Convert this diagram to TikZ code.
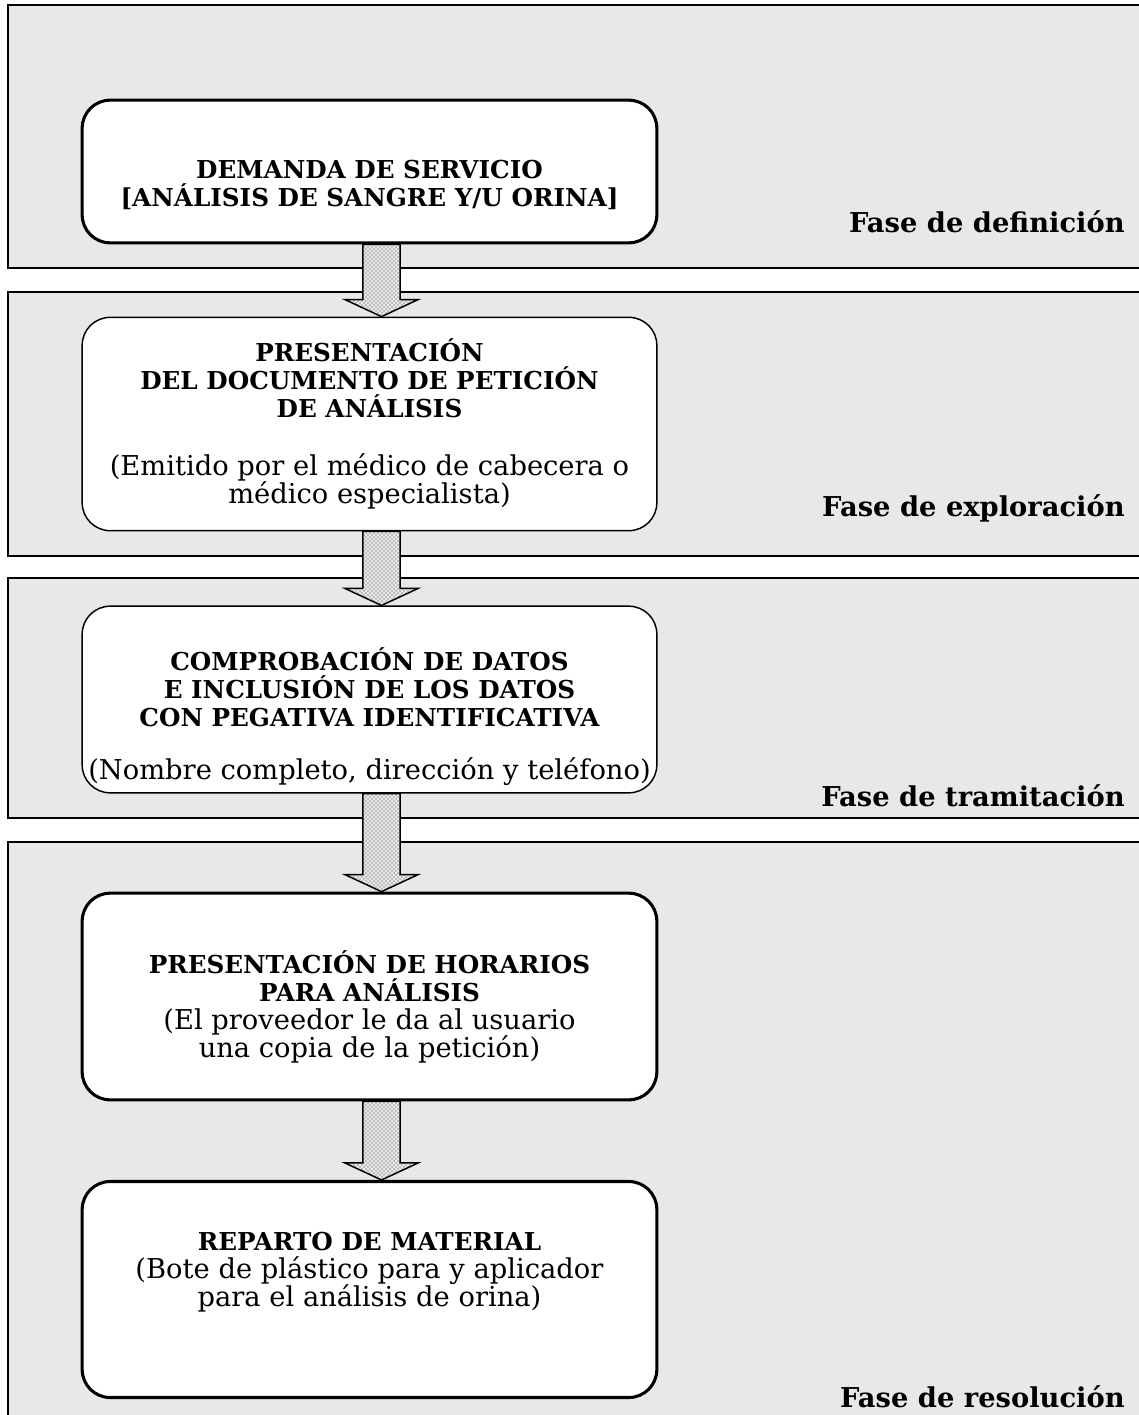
\documentclass[tikz,border=0pt]{standalone}
\usepackage{fontspec}
\setmainfont{DejaVu Serif}
\usetikzlibrary{calc,patterns}
\tikzset{
  banda/.style={draw,fill=black!9,line width=1.1pt},
  caja-g/.style={draw,fill=white,rectangle,rounded corners=21pt,minimum width=431pt,line width=2.3pt,inner sep=0pt},
  caja-f/.style={caja-g,line width=1.1pt},
  texto/.style={align=center,inner sep=0pt,font=\fontsize{20.5}{21}\selectfont},
  fase/.style={anchor=base east,inner sep=0pt,font=\fontsize{20.5}{21}\selectfont\bfseries},
  flecha/.style={draw,line width=1.1pt,preaction={fill=black!8},pattern=crosshatch dots,pattern color=black!85},
}
\newcommand\tit[1]{{\fontsize{18.5}{21}\selectfont\bfseries #1}}
\newcommand\flecha[2]{%
  \draw[flecha] let \p1=($(#1.south)+(12,0)$), \p2=($(#2.north)+(12,0)$) in
    (\x1-13.9pt,\y1) -- (\x1+13.9pt,\y1) -- (\x1+13.9pt,\y2+12.75pt)
    -- (\x1+27.4pt,\y2+12.75pt) -- (\x1,\y2) -- (\x1-27.4pt,\y2+12.75pt)
    -- (\x1-13.9pt,\y2+12.75pt) -- cycle;}

\begin{document}
\begin{tikzpicture}[x=0.75pt,y=-0.75pt]
  \clip (0,0) rectangle (1139,1415);

  % bandas de fase
  \draw[banda] (8,5)   rectangle (1160,268);
  \draw[banda] (8,292) rectangle (1160,556);
  \draw[banda] (8,578) rectangle (1160,818);
  \draw[banda] (8,842) rectangle (1160,1440);

  \node[fase] (f1) at (1125,232)  {Fase de definición};
  \node[fase] (f2) at (1125,516)  {Fase de exploración};
  \node[fase] (f3) at (1125,806)  {Fase de tramitación};
  \node[fase] (f4) at (1125,1407) {Fase de resolución};

  % cajas
  \node[caja-g,minimum height=107pt] (b1) at (369.5,171.5)  {};
  \node[caja-f,minimum height=160pt] (b2) at (369.5,424)    {};
  \node[caja-f,minimum height=140pt] (b3) at (369.5,699.5)  {};
  \node[caja-g,minimum height=155pt] (b4) at (369.5,996.5)  {};
  \node[caja-g,minimum height=162pt] (b5) at (369.5,1289.5) {};

  \node[texto] (t1) at ($(b1)+(0,13)$)
    {\tit{DEMANDA DE SERVICIO}\\\tit{[ANÁLISIS DE SANGRE Y/U ORINA]}};
  \node[texto] (t2) at ($(b2)+(0,0)$)
    {\tit{PRESENTACIÓN}\\\tit{DEL DOCUMENTO DE PETICIÓN}\\\tit{DE ANÁLISIS}\\[22pt]
     (Emitido por el médico de cabecera o\\médico especialista)};
  \node[texto] (t3) at ($(b3)+(0,17)$)
    {\tit{COMPROBACIÓN DE DATOS}\\\tit{E INCLUSIÓN DE LOS DATOS}\\\tit{CON PEGATIVA IDENTIFICATIVA}\\[19pt]
     (Nombre completo, dirección y teléfono)};
  \node[texto] (t4) at ($(b4)+(0,10)$)
    {\tit{PRESENTACIÓN DE HORARIOS}\\\tit{PARA ANÁLISIS}\\
     (El proveedor le da al usuario\\una copia de la petición)};
  \node[texto] (t5) at ($(b5)+(0,-17)$)
    {\tit{REPARTO DE MATERIAL}\\(Bote de plástico para y aplicador\\para el análisis de orina)};

  % flechas
  \flecha{b1}{b2}
  \flecha{b2}{b3}
  \flecha{b3}{b4}
  \flecha{b4}{b5}

\end{tikzpicture}
\end{document}
